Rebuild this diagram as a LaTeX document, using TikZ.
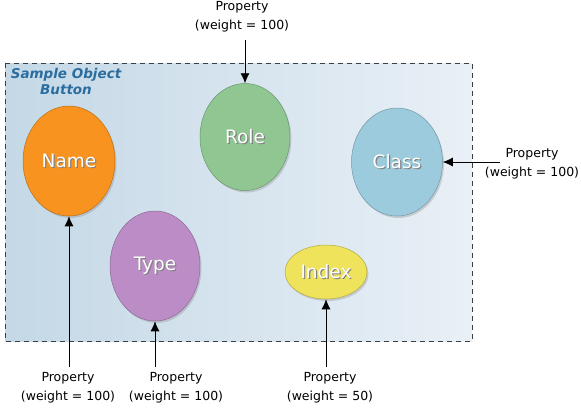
\documentclass[tikz,border=0pt]{standalone}
\usepackage{fontspec}
\setmainfont{DejaVu Sans}
\usepackage{tikz}
\usetikzlibrary{arrows.meta,shadows,shapes.geometric}
\definecolor{frameline}{HTML}{3A3F44}
\definecolor{bgleft}{HTML}{C4D8E6}
\definecolor{bgright}{HTML}{E9F0F6}
\definecolor{titleblue}{HTML}{2B6D9F}
\definecolor{nameorange}{HTML}{F7931E}
\definecolor{rolegreen}{HTML}{8FC692}
\definecolor{classblue}{HTML}{9BCBDD}
\definecolor{typepurple}{HTML}{BB8CC6}
\definecolor{indexyellow}{HTML}{EEE35B}
\newcommand\shtext[1]{\rlap{\kern1.2bp\raisebox{-1.2bp}{\textcolor{black!50}{#1}}}#1}

\begin{document}
\begin{tikzpicture}[x=1bp,y=-1bp,
  prop/.style={font=\fontsize{12.5bp}{19bp}\selectfont,align=center,inner sep=0pt},
  attr/.style={ellipse,inner sep=0pt,draw=#1!75!black,line width=0.5pt,fill=#1,text=white,
    font=\fontsize{18.5bp}{20bp}\selectfont,
    drop shadow={shadow xshift=1.5bp,shadow yshift=-2bp,opacity=0.3}},
  link/.style={-{Latex[length=10bp,width=9bp]},line width=0.8pt}]
  \useasboundingbox (0,0) rectangle (581,410);
  % object frame
  \shade[left color=bgleft,right color=bgright] (5,63) rectangle (472,341);
  \draw[frameline,dash pattern=on 5bp off 4bp,line width=0.6pt] (5,63) rectangle (472,341);
  \node[font=\fontsize{13.5bp}{16bp}\selectfont\bfseries\itshape,text=titleblue,align=center,inner sep=0pt] (title) at (66,81) {Sample Object\\Button};
  % attributes
  \node[attr=nameorange,minimum width=92bp,minimum height=110bp] (name) at (69,161) {\shtext{Name}};
  \node[attr=rolegreen,minimum width=90bp,minimum height=107bp] (role) at (245,137) {\shtext{Role}};
  \node[attr=classblue,minimum width=91bp,minimum height=108bp] (class) at (397,162) {\shtext{Class}};
  \node[attr=typepurple,minimum width=90bp,minimum height=110bp] (type) at (155,266) {\shtext{Type}};
  \node[attr=indexyellow,minimum width=82bp,minimum height=54bp] (index) at (326,272) {\shtext{Index}};
  % property labels
  \node[prop] (roleprop) at (242,17) {Property\\(weight = 100)};
  \node[prop] (classprop) at (532,164) {Property\\(weight = 100)};
  \node[prop] (nameprop) at (68,388) {Property\\(weight = 100)};
  \node[prop] (typeprop) at (176,388) {Property\\(weight = 100)};
  \node[prop] (indexprop) at (330,388) {Property\\(weight = 50)};
  \coordinate (rolestart) at (245,40);
  \coordinate (classstart) at (500,162);
  \coordinate (namestart) at (69,367);
  \coordinate (typestart) at (155,367);
  \coordinate (indexstart) at (326,367);
  % connectors
  \draw[link] (rolestart) -- (role);
  \draw[link] (classstart) -- (class);
  \draw[link] (namestart) -- (name);
  \draw[link] (typestart) -- (type);
  \draw[link] (indexstart) -- (index);
\end{tikzpicture}
\end{document}
